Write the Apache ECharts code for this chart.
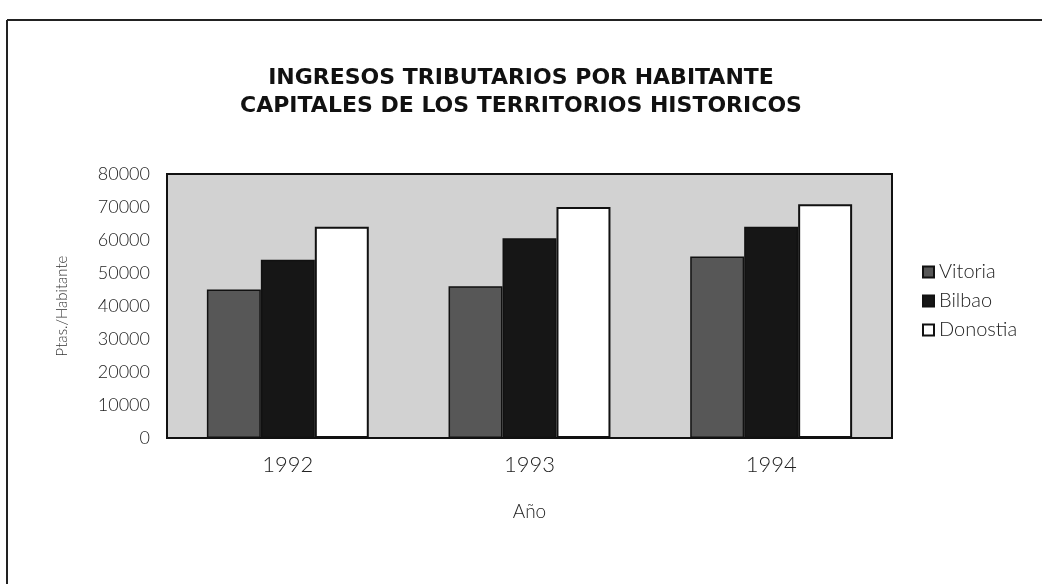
<!DOCTYPE html>
<html>
<head>
<meta charset="utf-8">
<script src="https://cdn.jsdelivr.net/npm/echarts@6/dist/echarts.min.js"></script>
<style>
html, body { margin: 0; padding: 0; background: #fff; }
#main { width: 1042px; height: 584px; }
</style>
</head>
<body>
<div id="main"></div>
<script>
// datos
var years = ['1992', '1993', '1994'];
var vitoria = [45000, 46000, 55000];
var bilbao = [54000, 60500, 64000];
var donostia = [64000, 70000, 70800];
var yTicks = [0, 10000, 20000, 30000, 40000, 50000, 60000, 70000, 80000];

var myChart = echarts.init(document.getElementById('main'));
var font = 'Lato';

option = {
    backgroundColor: '#fff',
    title: {
        text: 'INGRESOS TRIBUTARIOS POR HABITANTE\nCAPITALES DE LOS TERRITORIOS HISTORICOS',
        left: 'center',
        top: 59,
        textStyle: {
            fontFamily: 'DejaVu Sans',
            fontWeight: 'bold',
            fontSize: 22,
            lineHeight: 28,
            color: '#111'
        }
    },
    graphic: [
        { type: 'line', shape: { x1: 7, y1: 20, x2: 1042, y2: 20 }, style: { stroke: '#222', lineWidth: 2 } },
        { type: 'line', shape: { x1: 7, y1: 20, x2: 7, y2: 584 }, style: { stroke: '#222', lineWidth: 2 } }
    ],
    legend: {
        orient: 'vertical',
        left: 917,
        top: 257,
        itemWidth: 11,
        itemHeight: 11,
        itemGap: 9,
        icon: 'rect',
        textStyle: { fontFamily: font, fontWeight: 300, fontSize: 20, color: '#222' },
        data: ['Vitoria', 'Bilbao', 'Donostia']
    },
    grid: {
        left: 167,
        right: 150,
        top: 174,
        bottom: 146,
        show: true,
        backgroundColor: '#d2d2d2',
        borderColor: '#111',
        borderWidth: 2
    },
    xAxis: {
        type: 'category',
        data: years,
        name: 'Año',
        nameLocation: 'middle',
        nameGap: 64,
        nameTextStyle: { fontFamily: font, fontWeight: 300, fontSize: 19, color: '#222' },
        axisLine: { lineStyle: { color: '#111', width: 2 } },
        axisTick: { show: false },
        axisLabel: { fontFamily: font, fontWeight: 300, fontSize: 22, color: '#222', margin: 16 }
    },
    yAxis: {
        type: 'value',
        min: yTicks[0],
        max: yTicks[yTicks.length - 1],
        interval: 10000,
        name: 'Ptas./Habitante',
        nameLocation: 'middle',
        nameGap: 97,
        nameTextStyle: { fontFamily: font, fontWeight: 300, fontSize: 15, color: '#333' },
        axisLine: { show: true, lineStyle: { color: '#111', width: 2 } },
        axisTick: { show: false },
        splitLine: { show: false },
        axisLabel: {
            fontFamily: font, fontWeight: 300, fontSize: 18, color: '#222', margin: 17,
            formatter: function (v) { return String(v); }
        }
    },
    series: [
        {
            name: 'Vitoria',
            type: 'bar',
            data: vitoria,
            barGap: '0%',
            barCategoryGap: '33%',
            itemStyle: { color: '#575757', borderColor: '#111', borderWidth: 1.5 }
        },
        {
            name: 'Bilbao',
            type: 'bar',
            data: bilbao,
            itemStyle: { color: '#161616', borderColor: '#111', borderWidth: 1.5 }
        },
        {
            name: 'Donostia',
            type: 'bar',
            data: donostia,
            itemStyle: { color: '#ffffff', borderColor: '#111', borderWidth: 2 }
        }
    ]
};
myChart.setOption(option);
</script>
</body>
</html>
